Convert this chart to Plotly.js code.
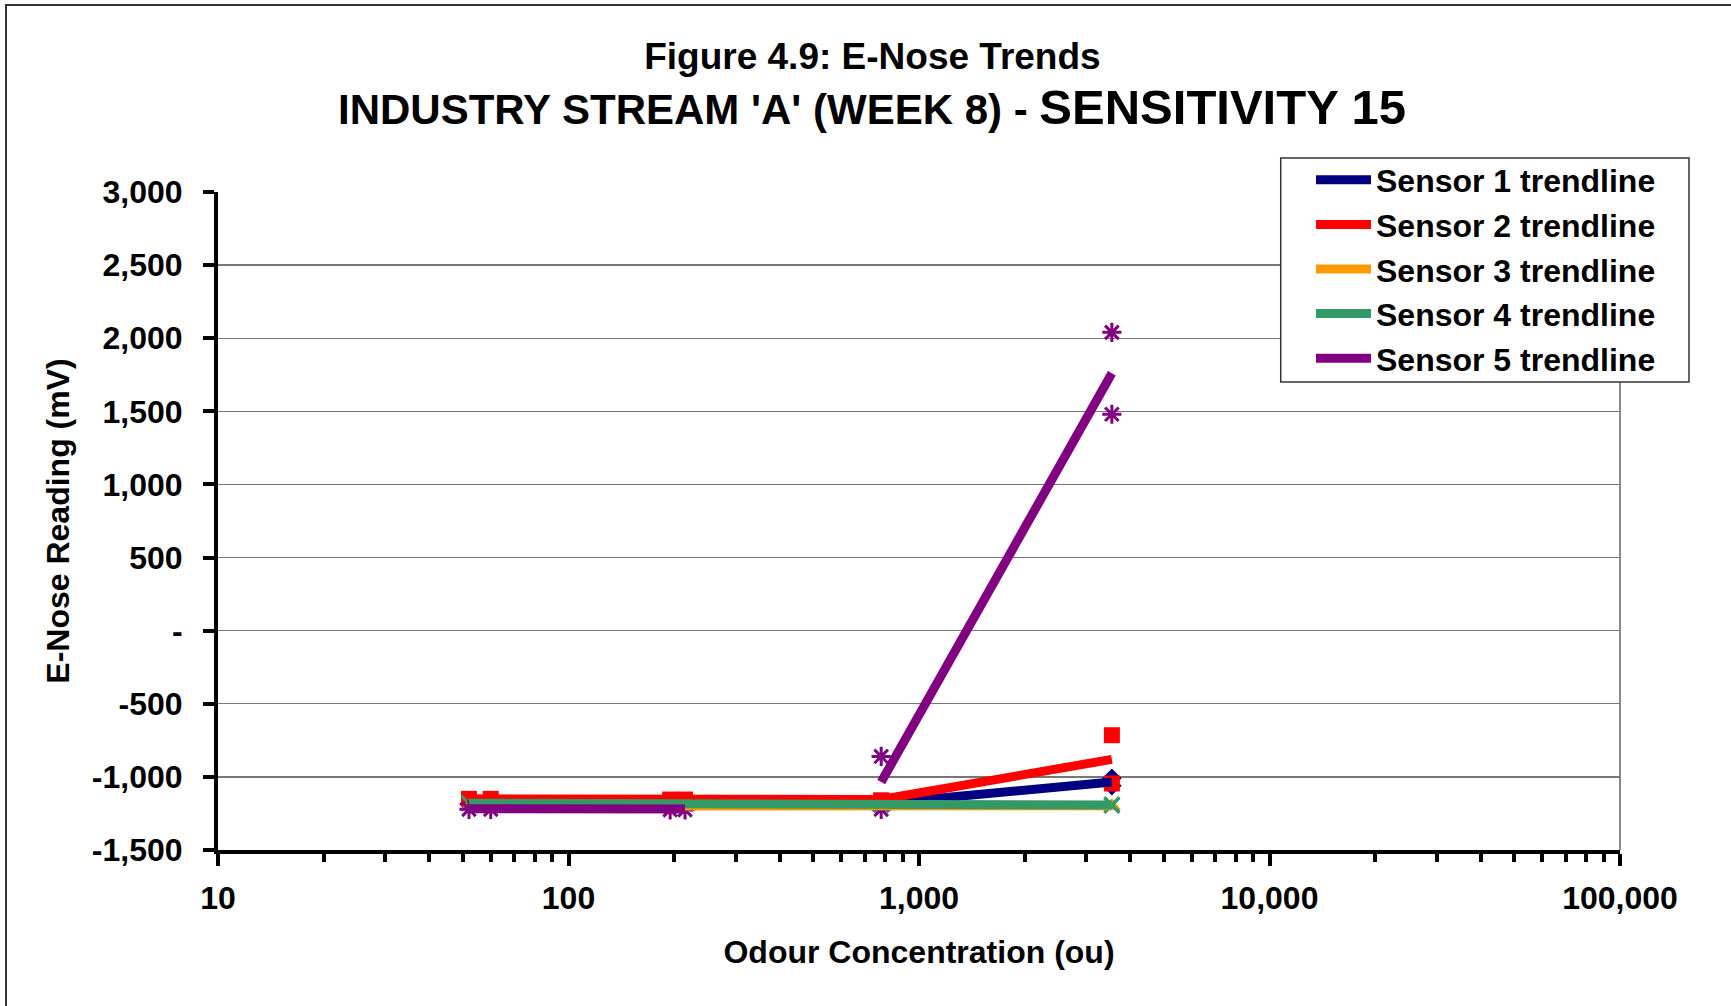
<!DOCTYPE html>
<html>
<head>
<meta charset="utf-8">
<script src="https://cdn.plot.ly/plotly-3.0.1.min.js"></script>
<style>
  html, body { margin: 0; padding: 0; background: #fff; overflow: hidden; }
  #chart { width: 1731px; height: 1006px; }
  #frame { position: absolute; left: 5px; top: 4px; width: 2000px; height: 2000px;
           border-left: 2px solid #333; border-top: 2px solid #333; pointer-events: none; }
</style>
</head>
<body>
<div id="chart"></div>
<div id="frame"></div>
<script>
// ---- data ----
const conc = [52, 60, 195, 215, 780, 780, 3550, 3550];          // odour concentration (ou)
const sensor1 = [-1185, -1185, -1185, -1185, -1180, -1185, -1010, -1060];
const sensor2 = [-1150, -1150, -1155, -1155, -1165, -1160, -715, -1045];
const sensor3 = [-1200, -1200, -1205, -1205, -1215, -1210, -1195, -1200];
const sensor4 = [-1180, -1180, -1185, -1185, -1190, -1190, -1190, -1195];
const sensor5 = [-1222, -1222, -1225, -1225, -1222, -860, 1480, 2040];

const trendConc = [52, 60, 195, 215, 780, 3550];
const sensor1Trend = [-1185, -1185, -1185, -1185, -1182, -1035];
const sensor2Trend = [-1150, -1150, -1152, -1152, -1155, -880];
const sensor3Trend = [-1200, -1200, -1202, -1202, -1205, -1197];
const sensor4Trend = [-1180, -1180, -1182, -1182, -1185, -1192];
const trendConc5 = [52, 60, 195, 215, null, 780, 3550];
const sensor5Trend = [-1218, -1218, -1220, -1220, null, -1035, 1760];

const seriesNames = ['Sensor 1 trendline', 'Sensor 2 trendline', 'Sensor 3 trendline', 'Sensor 4 trendline', 'Sensor 5 trendline'];
const yTickVals = [3000, 2500, 2000, 1500, 1000, 500, 0, -500, -1000, -1500];
const yTickText = ['3,000', '2,500', '2,000', '1,500', '1,000', '500', '-', '-500', '-1,000', '-1,500'];
const xTickVals = [10, 100, 1000, 10000, 100000];
const xTickText = ['10', '100', '1,000', '10,000', '100,000'];

const colors = ['#000080', '#FF0000', '#FF9900', '#339966', '#800080'];
const FONT = 'Liberation Sans, Arial, sans-serif';

const pts = [sensor1, sensor2, sensor3, sensor4, sensor5];
const symbols = [
  {symbol: 'diamond', size: 15},
  {symbol: 'square', size: 16},
  {symbol: 'triangle-up', size: 15},
  {symbol: 'x-thin-open', size: 15, line: {width: 3}},
  {symbol: 'asterisk-open', size: 16, line: {width: 3}}
];

const traces = [];
pts.forEach((ys, i) => {
  const m = Object.assign({color: colors[i]}, symbols[i]);
  if (m.line) m.line = Object.assign({color: colors[i]}, m.line);
  traces.push({x: conc, y: ys, type: 'scatter', mode: 'markers', marker: m,
               showlegend: false, hoverinfo: 'x+y'});
});
const trendX = [trendConc, trendConc, trendConc, trendConc, trendConc5];
const trendY = [sensor1Trend, sensor2Trend, sensor3Trend, sensor4Trend, sensor5Trend];
trendY.forEach((ys, i) => {
  traces.push({x: trendX[i], y: ys, type: 'scatter', mode: 'lines', name: seriesNames[i],
               line: {color: colors[i], width: 9}, connectgaps: false});
});

const layout = {
  width: 1731, height: 1006,
  paper_bgcolor: '#ffffff', plot_bgcolor: '#ffffff',
  margin: {l: 218, r: 111, t: 192, b: 156},
  font: {family: FONT, color: '#000', weight: 'bold'},
  title: {
    text: 'Figure 4.9: E-Nose Trends',
    font: {family: FONT, size: 37, color: '#000', weight: 'bold'},
    xref: 'container', yref: 'container', x: 0.504, xanchor: 'center',
    y: 1 - 56 / 1006, yanchor: 'middle'
  },
  annotations: [{
    text: "INDUSTRY STREAM 'A' (WEEK 8) - <span style=\"font-size:49px\">SENSITIVITY 15</span>",
    xref: 'paper', yref: 'paper', x: 0.4665, y: 1.129, xanchor: 'center', yanchor: 'middle',
    showarrow: false, font: {family: FONT, size: 42, color: '#000', weight: 'bold'}
  }],
  xaxis: {
    type: 'log', range: [1, 5],
    tickmode: 'array', tickvals: xTickVals, ticktext: xTickText,
    ticks: 'outside', ticklen: 12, tickwidth: 4, tickcolor: '#000',
    minor: {ticks: 'outside', ticklen: 8, tickwidth: 4, tickcolor: '#000', showgrid: false, dtick: 'D1'},
    showline: true, linecolor: '#000', linewidth: 4,
    showgrid: false, zeroline: false,
    tickfont: {family: FONT, size: 32, color: '#000', weight: 'bold'},
    ticklabelstandoff: 5,
    title: {text: 'Odour Concentration (ou)', font: {family: FONT, size: 32, color: '#000', weight: 'bold'}, standoff: 26}
  },
  yaxis: {
    range: [-1500, 3000],
    tickmode: 'array', tickvals: yTickVals, ticktext: yTickText,
    ticks: 'outside', ticklen: 11, tickwidth: 4, tickcolor: '#000',
    showline: true, linecolor: '#000', linewidth: 4,
    showgrid: true, gridcolor: '#777', gridwidth: 1.3, zeroline: false,
    tickfont: {family: FONT, size: 32, color: '#000', weight: 'bold'},
    ticklabelstandoff: 14,
    title: {text: 'E-Nose Reading (mV)', font: {family: FONT, size: 32, color: '#000', weight: 'bold'}, standoff: 14}
  },
  shapes: [
    {type: 'line', xref: 'paper', yref: 'paper', x0: 1, x1: 1, y0: 0, y1: 1,
     line: {color: '#888', width: 2}, layer: 'below'},
    // legend box
    {type: 'rect', xref: 'paper', yref: 'paper', x0: 0.758, x1: 1.0492, y0: 0.7112, y1: 1.0517,
     fillcolor: '#ffffff', line: {color: '#333', width: 1.5}, layer: 'above'}
  ],
  legend: {
    x: 0.7796, y: 1.0600, xanchor: 'left', yanchor: 'top',
    bgcolor: 'rgba(0,0,0,0)', borderwidth: 0,
    font: {family: FONT, size: 32, color: '#000', weight: 'bold'},
    itemwidth: 55, tracegroupgap: 0
  },
  showlegend: true
};

Plotly.newPlot('chart', traces, layout, {displayModeBar: false, staticPlot: true});
</script>
</body>
</html>
